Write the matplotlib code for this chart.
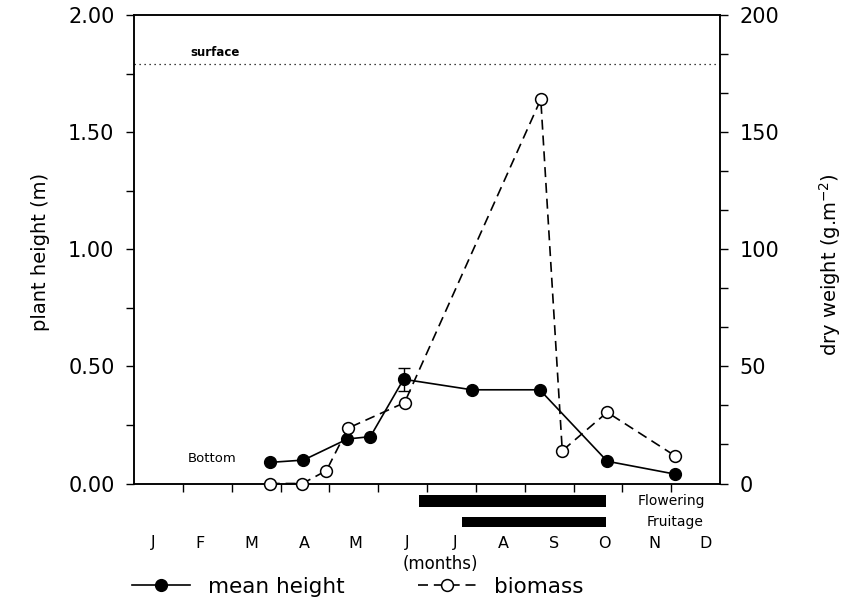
import matplotlib
matplotlib.use("Agg")
import matplotlib.pyplot as plt
from matplotlib.ticker import MultipleLocator, FixedLocator, NullFormatter

# ---------------- data ----------------
height_month = [2.78, 3.47, 4.37, 4.84, 5.52, 6.92, 8.31, 9.69, 11.08]
height_m     = [0.09, 0.10, 0.19, 0.20, 0.445, 0.40, 0.40, 0.095, 0.04]
height_err_month = [5.52]
height_err_val   = [0.445]
height_err       = [0.05]

biomass_month = [2.78, 3.45, 3.94, 4.38, 5.54, 8.33, 8.77, 9.69, 11.08]
biomass_gm2   = [0.0, 0.0, 5.5, 23.6, 34.5, 164.0, 14.0, 30.4, 11.8]

surface_level = 1.79

phen_labels = ["Flowering", "Fruitage"]
phen_start  = [5.83, 6.71]
phen_end    = [9.67, 9.67]

month_labels = ["J", "F", "M", "A", "M", "J", "J", "A", "S", "O", "N", "D"]
month_label_pos = [0.39, 1.35, 2.41, 3.49, 4.53, 5.59, 6.57, 7.57, 8.61, 9.63, 10.65, 11.71]
month_ticks = [1, 2, 3, 4, 5, 6, 7, 8, 9, 10, 11]

left_ticks = [0.0, 0.5, 1.0, 1.5, 2.0]
left_ticklabels = ["0.00", "0.50", "1.00", "1.50", "2.00"]
right_ticks = [0, 50, 100, 150, 200]

# ---------------- figure ----------------
W, H = 847, 604
fig = plt.figure(figsize=(W / 100, H / 100), dpi=100)

ax_l, ax_r, ax_b, ax_t = 134, 720, 483.5, 15
ax = fig.add_axes([ax_l / W, 1 - ax_b / H, (ax_r - ax_l) / W, (ax_b - ax_t) / H])
ax2 = ax.twinx()

ax.set_xlim(0, 12)
ax.set_ylim(0, 2.0)
ax2.set_ylim(0, 200)

lw = 1.2
# mean height
l1, = ax.plot(height_month, height_m, color="black", linestyle="-", linewidth=lw,
              marker="o", markersize=8.5, markerfacecolor="black",
              markeredgecolor="black", zorder=4, clip_on=False)
ax.errorbar(height_err_month, height_err_val, yerr=height_err, fmt="none",
            ecolor="black", elinewidth=1.0, capsize=4, capthick=1.0, zorder=3)
# biomass
l2, = ax2.plot(biomass_month, biomass_gm2, color="black", linestyle=(0, (6, 3.5)),
               linewidth=lw, marker="o", markersize=8.5, markerfacecolor="white",
               markeredgecolor="black", markeredgewidth=1.1, zorder=4, clip_on=False)

# surface line
ax.axhline(surface_level, color="black", linestyle=(0, (1, 3)), linewidth=0.9)
ax.text(1.65, 1.84, "surface", fontsize=8.5, ha="center", va="center", fontweight="bold")
ax.text(1.59, 0.105, "Bottom", fontsize=9.5, ha="center", va="center")

# ticks
ax.set_yticks(left_ticks)
ax.set_yticklabels(left_ticklabels)
ax.yaxis.set_minor_locator(MultipleLocator(0.25))
ax.xaxis.set_major_locator(FixedLocator(month_ticks))
ax.xaxis.set_major_formatter(NullFormatter())
ax.tick_params(axis="y", which="major", direction="out", length=6, width=1,
               labelsize=15, pad=8)
ax.tick_params(axis="y", which="minor", direction="out", length=6, width=1)
ax.tick_params(axis="x", which="major", direction="out", length=6, width=1)

ax2.set_yticks(right_ticks)
ax2.yaxis.set_minor_locator(MultipleLocator(50 / 3))
ax2.tick_params(axis="y", which="major", direction="out", length=6, width=1,
                labelsize=15, pad=8)
ax2.tick_params(axis="y", which="minor", direction="out", length=6, width=1)

for a in (ax, ax2):
    for s in a.spines.values():
        s.set_linewidth(1.1)

# month labels
xt = ax.get_xaxis_transform()
for pos, lab in zip(month_label_pos, month_labels):
    ax.text(pos, (ax_b - 543) / (ax_b - ax_t), lab, transform=xt, ha="center",
            va="center", fontsize=11.5, clip_on=False)
ax.text(6.27, (ax_b - 564) / (ax_b - ax_t), "(months)", transform=xt, ha="center",
        va="center", fontsize=12, clip_on=False)

# phenology bars axes
pb_top, pb_bot = 493, 530
axp = fig.add_axes([ax_l / W, 1 - pb_bot / H, (ax_r - ax_l) / W, (pb_bot - pb_top) / H])
axp.set_xlim(0, 12)
axp.set_ylim(0, 1)
axp.axis("off")
rows = [0.78, 0.22]
heights = [0.32, 0.28]
for r, h, s, e, lab in zip(rows, heights, phen_start, phen_end, phen_labels):
    axp.barh(r, e - s, left=s, height=h, color="black")
axp.text(11.0, rows[0], phen_labels[0], ha="center", va="center", fontsize=10)
axp.text(11.09, rows[1], phen_labels[1], ha="center", va="center", fontsize=10)

# axis labels
fig.text(40 / W, 1 - 252 / H, "plant height (m)", rotation=90, ha="center",
         va="center", fontsize=14)
fig.text(830 / W, 1 - 265 / H, "dry weight (g.m$^{-2}$)", rotation=90, ha="center",
         va="center", fontsize=14)

# legend
fig.legend([l1, l2], ["mean height", "biomass"], loc="center left",
           bbox_to_anchor=(132 / W, 1 - 587 / H), ncol=2, frameon=False,
           fontsize=15.5, handlelength=2.7, handletextpad=0.84, columnspacing=3.4,
           borderpad=0, borderaxespad=0)

fig.savefig("out.png", dpi=100)
